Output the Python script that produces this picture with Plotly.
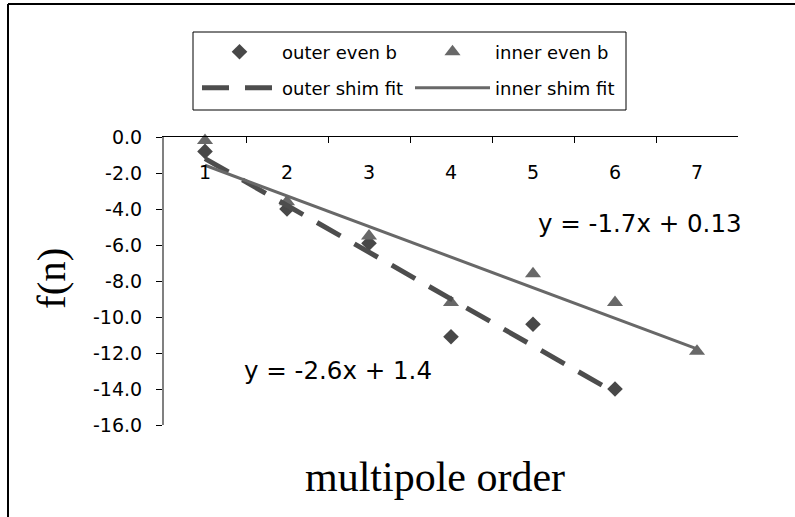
import plotly.graph_objects as go

# ---- data ----
orders_outer = [1, 2, 3, 4, 5, 6]
orders_inner = [1, 2, 3, 4, 5, 6, 7]
outer_even_b = [-0.8, -4.0, -5.9, -11.1, -10.4, -14.0]
inner_even_b = [-0.2, -3.6, -5.5, -9.2, -7.6, -9.2, -11.9]
outer_shim_fit = [-1.2, -3.8, -6.4, -9.0, -11.6, -14.2]
inner_shim_fit = [-1.57, -3.27, -4.97, -6.67, -8.37, -10.07, -11.77]
categories = ["1", "2", "3", "4", "5", "6", "7"]
y_ticks = [0, -2, -4, -6, -8, -10, -12, -14, -16]
y_tick_text = ["0.0", "-2.0", "-4.0", "-6.0", "-8.0", "-10.0", "-12.0", "-14.0", "-16.0"]

W, H = 795, 517
L, R, T, B = 164, 738, 137, 425  # plot area in px


def px_x(p):
    return (p - L) / (R - L)


def px_y(p):
    return (B - p) / (B - T)


SANS = "DejaVu Sans"
SERIF = "Liberation Serif"

fig = go.Figure()
fig.add_trace(go.Scatter(
    x=[str(v) for v in orders_outer], y=outer_even_b, mode="markers", name="outer even b",
    marker=dict(symbol="diamond", size=12, color="#484848"), cliponaxis=False, legend="legend"))
fig.add_trace(go.Scatter(
    x=[str(v) for v in orders_inner], y=inner_even_b, mode="markers", name="inner even b",
    marker=dict(symbol="triangle-up", size=14, color="#686868"), cliponaxis=False, legend="legend"))
fig.add_trace(go.Scatter(
    x=[str(v) for v in orders_outer], y=outer_shim_fit, mode="lines", name="outer shim fit",
    line=dict(color="#4d4d4d", width=5, dash="27px,16px"), legend="legend2"))
fig.add_trace(go.Scatter(
    x=[str(v) for v in orders_inner], y=inner_shim_fit, mode="lines", name="inner shim fit",
    line=dict(color="#686868", width=3), legend="legend2"))
# category labels axis (x-axis labels drawn just below the axis line at y = 0)
fig.add_trace(go.Scatter(
    x=categories, y=[None] * len(categories), xaxis="x2", mode="markers",
    showlegend=False, hoverinfo="skip"))

legend_common = dict(
    orientation="h", xanchor="left", yanchor="middle", bgcolor="rgba(0,0,0,0)",
    borderwidth=0, font=dict(family=SANS, size=18, color="#000"),
    itemwidth=75, entrywidth=123, entrywidthmode="pixels", traceorder="normal",
)

cat_axis = dict(type="category", categoryorder="array", categoryarray=categories,
                range=[-0.5, 6.5], showgrid=False, zeroline=False)

fig.update_layout(
    width=W, height=H,
    margin=dict(l=L, r=W - R, t=T, b=H - B),
    paper_bgcolor="white", plot_bgcolor="white",
    showlegend=True,
    legend=dict(x=px_x(197), y=px_y(52), **legend_common),
    legend2=dict(x=px_x(197), y=px_y(88), **legend_common),
    xaxis=dict(
        side="top", tickson="boundaries",
        ticks="inside", ticklen=6, tickcolor="#000", tickwidth=1,
        showline=True, linecolor="#000", linewidth=1,
        showticklabels=False, **cat_axis,
    ),
    xaxis2=dict(
        overlaying="x", anchor="free", position=px_y(159), side="bottom",
        ticks="", showline=False, showticklabels=True,
        tickfont=dict(family=SANS, size=19, color="#000"), **cat_axis,
    ),
    yaxis=dict(
        range=[-16, 0], tickvals=y_ticks, ticktext=y_tick_text,
        ticks="outside", ticklen=6, tickcolor="#000", tickwidth=1,
        showline=True, linecolor="#808080", linewidth=2,
        tickfont=dict(family=SANS, size=19, color="#000"),
        ticklabelstandoff=10,
        showgrid=False, zeroline=False,
    ),
    shapes=[
        dict(type="rect", xref="paper", yref="paper",
             x0=px_x(193), x1=px_x(626), y0=px_y(110), y1=px_y(32),
             line=dict(color="#000", width=1), fillcolor="rgba(0,0,0,0)"),
        dict(type="line", xref="paper", yref="paper",
             x0=px_x(8), x1=px_x(8), y0=px_y(530), y1=px_y(4),
             line=dict(color="#000", width=2)),
        dict(type="line", xref="paper", yref="paper",
             x0=px_x(8), x1=px_x(800), y0=px_y(4), y1=px_y(4),
             line=dict(color="#000", width=2)),
    ],
    annotations=[
        dict(text="y = -1.7x + 0.13", xref="paper", yref="paper",
             x=px_x(536), y=px_y(223), xanchor="left", yanchor="middle",
             showarrow=False, font=dict(family=SANS, size=24.5, color="#000")),
        dict(text="y = -2.6x + 1.4", xref="paper", yref="paper",
             x=px_x(242), y=px_y(370), xanchor="left", yanchor="middle",
             showarrow=False, font=dict(family=SANS, size=24.5, color="#000")),
        dict(text="multipole order", xref="paper", yref="paper",
             x=px_x(435), y=px_y(477), xanchor="center", yanchor="middle",
             showarrow=False, font=dict(family=SERIF, size=42, color="#000")),
        dict(text="f(n)", xref="paper", yref="paper", textangle=-90,
             x=px_x(51), y=px_y(279), xanchor="center", yanchor="middle",
             showarrow=False, font=dict(family=SERIF, size=41, color="#000")),
    ],
)

fig.write_html("out.html")
